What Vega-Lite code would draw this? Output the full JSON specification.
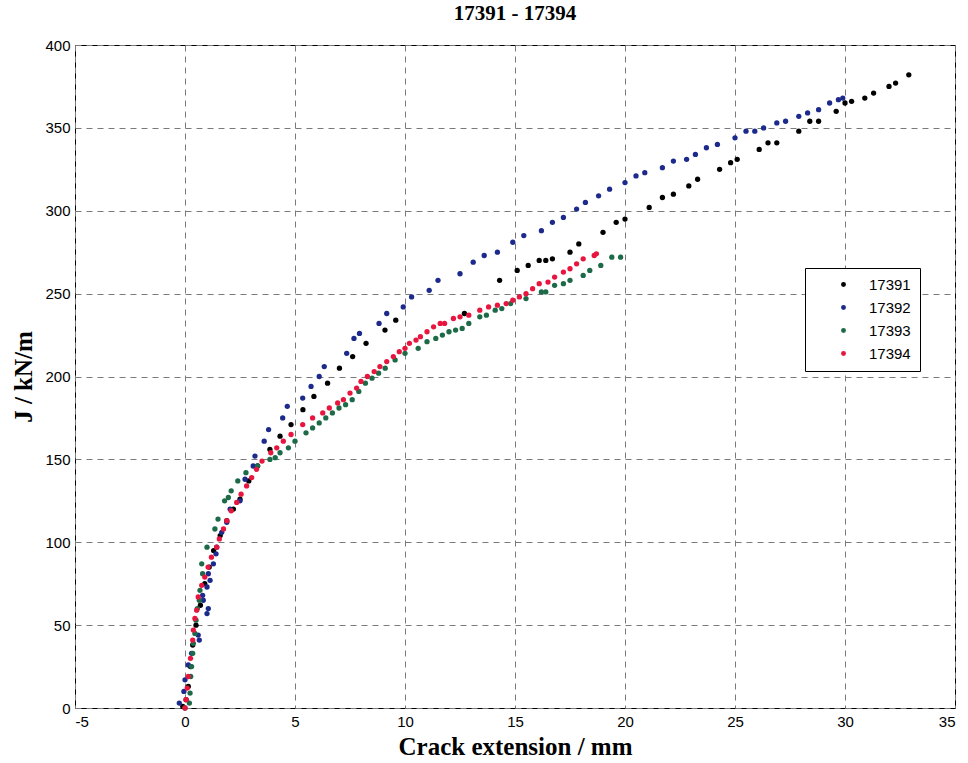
{
  "$schema": "https://vega.github.io/schema/vega-lite/v6.json",
  "width": 880,
  "height": 663,
  "autosize": {"type": "none"},
  "padding": {"left": 75, "top": 45, "right": 13, "bottom": 55},
  "background": "white",
  "title": {"text": "17391 - 17394", "font": "Liberation Serif", "fontSize": 21, "fontWeight": "bold", "color": "black", "anchor": "middle", "offset": 14},
  "config": {
    "view": {"stroke": "black", "strokeWidth": 1},
    "axis": {"grid": true, "gridColor": "#7a7a7a", "gridDash": [6, 5], "gridWidth": 1, "ticks": false, "domain": false,
      "labelFont": "Liberation Sans", "labelFontSize": 15, "labelColor": "black",
      "titleFont": "Liberation Serif", "titleFontSize": 25, "titleFontWeight": "bold", "titleColor": "black"}
  },
  "datasets": {
    "pts": [
      {"s":"17391","x":-0.1,"y":1},{"s":"17391","x":0.05,"y":5},{"s":"17391","x":0.15,"y":13},{"s":"17391","x":0.25,"y":25},{"s":"17391","x":0.35,"y":38},{"s":"17391","x":0.5,"y":50},{"s":"17391","x":0.7,"y":62},{"s":"17391","x":0.9,"y":75},{"s":"17391","x":1.1,"y":85},{"s":"17391","x":1.3,"y":95},{"s":"17391","x":1.6,"y":104},{"s":"17391","x":1.9,"y":113},{"s":"17391","x":2.2,"y":120},{"s":"17391","x":2.5,"y":126},{"s":"17391","x":2.9,"y":137},{"s":"17391","x":3.3,"y":146},{"s":"17391","x":3.86,"y":156},{"s":"17391","x":4.32,"y":164},{"s":"17391","x":4.82,"y":171},{"s":"17391","x":5.36,"y":180},{"s":"17391","x":5.86,"y":188},{"s":"17391","x":6.48,"y":196},{"s":"17391","x":7.02,"y":205},{"s":"17391","x":7.62,"y":212},{"s":"17391","x":8.23,"y":220},{"s":"17391","x":9.09,"y":228},{"s":"17391","x":9.58,"y":234},{"s":"17391","x":12.7,"y":238},{"s":"17391","x":14.3,"y":258},{"s":"17391","x":15.1,"y":264},{"s":"17391","x":15.6,"y":267},{"s":"17391","x":16.1,"y":270},{"s":"17391","x":16.4,"y":270},{"s":"17391","x":16.7,"y":271},{"s":"17391","x":17.5,"y":275},{"s":"17391","x":17.9,"y":280},{"s":"17391","x":19.0,"y":287},{"s":"17391","x":19.6,"y":293},{"s":"17391","x":20.0,"y":295},{"s":"17391","x":21.1,"y":302},{"s":"17391","x":21.7,"y":308},{"s":"17391","x":22.2,"y":310},{"s":"17391","x":22.9,"y":315},{"s":"17391","x":23.3,"y":319},{"s":"17391","x":24.3,"y":325},{"s":"17391","x":24.8,"y":329},{"s":"17391","x":25.1,"y":331},{"s":"17391","x":26.1,"y":337},{"s":"17391","x":26.5,"y":341},{"s":"17391","x":26.9,"y":341},{"s":"17391","x":27.9,"y":348},{"s":"17391","x":28.4,"y":354},{"s":"17391","x":28.8,"y":354},{"s":"17391","x":29.6,"y":360},{"s":"17391","x":30.0,"y":365},{"s":"17391","x":30.3,"y":366},{"s":"17391","x":30.9,"y":368},{"s":"17391","x":31.3,"y":371},{"s":"17391","x":32.0,"y":375},{"s":"17391","x":32.3,"y":377},{"s":"17391","x":32.9,"y":382},
      {"s":"17392","x":-0.26,"y":3},{"s":"17392","x":-0.05,"y":10},{"s":"17392","x":0.0,"y":17},{"s":"17392","x":0.15,"y":26},{"s":"17392","x":0.3,"y":33},{"s":"17392","x":0.65,"y":41},{"s":"17392","x":0.6,"y":44},{"s":"17392","x":1.0,"y":57},{"s":"17392","x":1.06,"y":60},{"s":"17392","x":0.83,"y":65},{"s":"17392","x":0.8,"y":68},{"s":"17392","x":1.0,"y":73},{"s":"17392","x":1.14,"y":77},{"s":"17392","x":1.06,"y":81},{"s":"17392","x":1.29,"y":87},{"s":"17392","x":1.41,"y":93},{"s":"17392","x":1.44,"y":97},{"s":"17392","x":1.67,"y":106},{"s":"17392","x":1.9,"y":112},{"s":"17392","x":2.05,"y":120},{"s":"17392","x":2.5,"y":125},{"s":"17392","x":2.73,"y":138},{"s":"17392","x":3.1,"y":146},{"s":"17392","x":3.18,"y":152},{"s":"17392","x":3.6,"y":161},{"s":"17392","x":3.8,"y":168},{"s":"17392","x":4.44,"y":175},{"s":"17392","x":4.65,"y":182},{"s":"17392","x":5.35,"y":187},{"s":"17392","x":5.73,"y":194},{"s":"17392","x":6.1,"y":200},{"s":"17392","x":6.33,"y":206},{"s":"17392","x":7.35,"y":214},{"s":"17392","x":7.68,"y":223},{"s":"17392","x":7.93,"y":226},{"s":"17392","x":8.82,"y":232},{"s":"17392","x":9.17,"y":238},{"s":"17392","x":9.92,"y":242},{"s":"17392","x":10.3,"y":248},{"s":"17392","x":11.1,"y":252},{"s":"17392","x":11.5,"y":258},{"s":"17392","x":12.5,"y":262},{"s":"17392","x":13.1,"y":269},{"s":"17392","x":13.6,"y":273},{"s":"17392","x":14.2,"y":275},{"s":"17392","x":14.9,"y":281},{"s":"17392","x":15.4,"y":285},{"s":"17392","x":16.2,"y":288},{"s":"17392","x":16.7,"y":293},{"s":"17392","x":17.2,"y":296},{"s":"17392","x":17.8,"y":301},{"s":"17392","x":18.2,"y":305},{"s":"17392","x":18.8,"y":309},{"s":"17392","x":19.3,"y":313},{"s":"17392","x":20.0,"y":317},{"s":"17392","x":20.5,"y":321},{"s":"17392","x":20.9,"y":323},{"s":"17392","x":21.7,"y":326},{"s":"17392","x":22.2,"y":330},{"s":"17392","x":22.8,"y":331},{"s":"17392","x":23.2,"y":334},{"s":"17392","x":23.7,"y":338},{"s":"17392","x":24.2,"y":340},{"s":"17392","x":25.0,"y":344},{"s":"17392","x":25.5,"y":348},{"s":"17392","x":25.9,"y":348},{"s":"17392","x":26.3,"y":350},{"s":"17392","x":26.9,"y":353},{"s":"17392","x":27.3,"y":354},{"s":"17392","x":27.9,"y":357},{"s":"17392","x":28.3,"y":359},{"s":"17392","x":28.8,"y":361},{"s":"17392","x":29.3,"y":365},{"s":"17392","x":29.7,"y":367},{"s":"17392","x":29.9,"y":368},
      {"s":"17393","x":0.0,"y":0},{"s":"17393","x":0.2,"y":3},{"s":"17393","x":0.23,"y":9},{"s":"17393","x":0.26,"y":19},{"s":"17393","x":0.3,"y":25},{"s":"17393","x":0.35,"y":33},{"s":"17393","x":0.38,"y":39},{"s":"17393","x":0.45,"y":45},{"s":"17393","x":0.5,"y":53},{"s":"17393","x":0.56,"y":60},{"s":"17393","x":0.65,"y":65},{"s":"17393","x":0.68,"y":71},{"s":"17393","x":0.8,"y":81},{"s":"17393","x":0.76,"y":87},{"s":"17393","x":1.0,"y":97},{"s":"17393","x":1.36,"y":108},{"s":"17393","x":1.5,"y":114},{"s":"17393","x":1.8,"y":125},{"s":"17393","x":1.97,"y":127},{"s":"17393","x":2.1,"y":131},{"s":"17393","x":2.4,"y":137},{"s":"17393","x":2.77,"y":142},{"s":"17393","x":3.3,"y":146},{"s":"17393","x":3.86,"y":150},{"s":"17393","x":4.1,"y":151},{"s":"17393","x":4.32,"y":154},{"s":"17393","x":4.7,"y":157},{"s":"17393","x":5.0,"y":161},{"s":"17393","x":5.5,"y":166},{"s":"17393","x":5.8,"y":169},{"s":"17393","x":6.1,"y":172},{"s":"17393","x":6.4,"y":175},{"s":"17393","x":6.7,"y":178},{"s":"17393","x":7.0,"y":181},{"s":"17393","x":7.3,"y":183},{"s":"17393","x":7.6,"y":186},{"s":"17393","x":7.9,"y":191},{"s":"17393","x":8.2,"y":196},{"s":"17393","x":8.5,"y":199},{"s":"17393","x":8.8,"y":202},{"s":"17393","x":9.1,"y":205},{"s":"17393","x":9.55,"y":210},{"s":"17393","x":10.0,"y":214},{"s":"17393","x":10.6,"y":217},{"s":"17393","x":11.0,"y":221},{"s":"17393","x":11.4,"y":223},{"s":"17393","x":11.7,"y":225},{"s":"17393","x":12.0,"y":227},{"s":"17393","x":12.3,"y":228},{"s":"17393","x":12.6,"y":229},{"s":"17393","x":12.9,"y":232},{"s":"17393","x":13.4,"y":236},{"s":"17393","x":13.7,"y":237},{"s":"17393","x":14.1,"y":240},{"s":"17393","x":14.4,"y":241},{"s":"17393","x":14.8,"y":244},{"s":"17393","x":15.5,"y":247},{"s":"17393","x":16.2,"y":251},{"s":"17393","x":16.4,"y":251},{"s":"17393","x":16.8,"y":255},{"s":"17393","x":17.2,"y":256},{"s":"17393","x":17.5,"y":258},{"s":"17393","x":18.1,"y":261},{"s":"17393","x":18.4,"y":264},{"s":"17393","x":18.9,"y":267},{"s":"17393","x":19.4,"y":272},{"s":"17393","x":19.8,"y":272},
      {"s":"17394","x":0.0,"y":0},{"s":"17394","x":0.05,"y":5},{"s":"17394","x":0.1,"y":12},{"s":"17394","x":0.15,"y":19},{"s":"17394","x":0.25,"y":30},{"s":"17394","x":0.35,"y":41},{"s":"17394","x":0.38,"y":47},{"s":"17394","x":0.45,"y":54},{"s":"17394","x":0.53,"y":59},{"s":"17394","x":0.6,"y":67},{"s":"17394","x":0.76,"y":74},{"s":"17394","x":0.9,"y":79},{"s":"17394","x":1.05,"y":85},{"s":"17394","x":1.2,"y":91},{"s":"17394","x":1.44,"y":97},{"s":"17394","x":1.56,"y":102},{"s":"17394","x":1.75,"y":108},{"s":"17394","x":1.9,"y":113},{"s":"17394","x":2.1,"y":119},{"s":"17394","x":2.35,"y":124},{"s":"17394","x":2.55,"y":129},{"s":"17394","x":2.8,"y":134},{"s":"17394","x":3.03,"y":139},{"s":"17394","x":3.25,"y":144},{"s":"17394","x":3.5,"y":149},{"s":"17394","x":3.9,"y":154},{"s":"17394","x":4.17,"y":157},{"s":"17394","x":4.47,"y":161},{"s":"17394","x":4.82,"y":165},{"s":"17394","x":5.35,"y":171},{"s":"17394","x":5.8,"y":175},{"s":"17394","x":6.26,"y":178},{"s":"17394","x":6.56,"y":181},{"s":"17394","x":6.94,"y":184},{"s":"17394","x":7.2,"y":186},{"s":"17394","x":7.5,"y":190},{"s":"17394","x":7.8,"y":193},{"s":"17394","x":8.0,"y":197},{"s":"17394","x":8.29,"y":200},{"s":"17394","x":8.6,"y":203},{"s":"17394","x":8.86,"y":206},{"s":"17394","x":9.17,"y":209},{"s":"17394","x":9.47,"y":212},{"s":"17394","x":9.74,"y":215},{"s":"17394","x":10.0,"y":217},{"s":"17394","x":10.2,"y":220},{"s":"17394","x":10.5,"y":222},{"s":"17394","x":10.7,"y":224},{"s":"17394","x":11.0,"y":227},{"s":"17394","x":11.3,"y":230},{"s":"17394","x":11.6,"y":232},{"s":"17394","x":11.8,"y":232},{"s":"17394","x":12.2,"y":235},{"s":"17394","x":12.5,"y":236},{"s":"17394","x":12.9,"y":237},{"s":"17394","x":13.4,"y":240},{"s":"17394","x":13.8,"y":242},{"s":"17394","x":14.2,"y":243},{"s":"17394","x":14.6,"y":244},{"s":"17394","x":14.9,"y":246},{"s":"17394","x":15.2,"y":248},{"s":"17394","x":15.5,"y":250},{"s":"17394","x":15.8,"y":253},{"s":"17394","x":16.1,"y":256},{"s":"17394","x":16.5,"y":257},{"s":"17394","x":16.8,"y":260},{"s":"17394","x":17.2,"y":263},{"s":"17394","x":17.5,"y":265},{"s":"17394","x":17.8,"y":268},{"s":"17394","x":18.1,"y":271},{"s":"17394","x":18.6,"y":273},{"s":"17394","x":18.7,"y":274}
    ]
  },
  "data": {"name": "pts"},
  "mark": {"type": "circle", "size": 28, "opacity": 1},
  "encoding": {
    "x": {"field": "x", "type": "quantitative", "title": "Crack extension / mm",
      "scale": {"domain": [-5, 35], "nice": false, "zero": false},
      "axis": {"values": [-5, 0, 5, 10, 15, 20, 25, 30, 35], "labelExpr": "'' + datum.value", "labelPadding": 6, "titlePadding": 5}},
    "y": {"field": "y", "type": "quantitative", "title": "J / kN/m",
      "scale": {"domain": [0, 400], "nice": false},
      "axis": {"values": [0, 50, 100, 150, 200, 250, 300, 350, 400], "labelPadding": 5, "titlePadding": 8}},
    "color": {"field": "s", "type": "nominal",
      "scale": {"domain": ["17391", "17392", "17393", "17394"], "range": ["#000000", "#1c2a8c", "#1d6a48", "#e8163f"]},
      "legend": {"title": null, "orient": "none", "legendX": 730, "legendY": 223, "strokeColor": "black", "fillColor": "white",
        "padding": 9, "symbolSize": 24, "symbolType": "circle", "symbolOffset": 22, "labelOffset": 18,
        "labelFont": "Liberation Sans", "labelFontSize": 15, "labelColor": "black", "rowPadding": 7, "cornerRadius": 0}}
  }
}
